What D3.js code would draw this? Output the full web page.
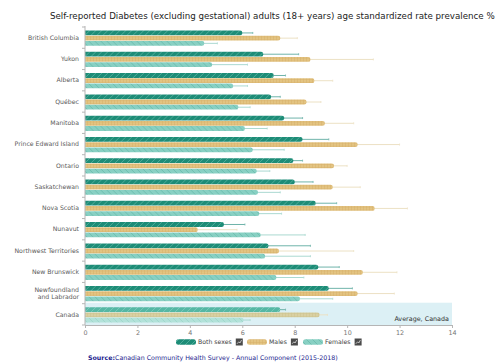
<!DOCTYPE html>
<html>
<head>
<meta charset="utf-8">
<script src="https://cdn.jsdelivr.net/npm/d3@7"></script>
<style>
  html, body { margin: 0; padding: 0; background: #fff; }
  svg { display: block; }
  text { font-family: "DejaVu Sans", Verdana, sans-serif; }
</style>
</head>
<body>
<svg id="chart" width="497" height="363"></svg>
<script>
// Prevalence (%) of self-reported diabetes, age standardized, by province/territory
const regions = ["British Columbia", "Yukon", "Alberta", "Québec", "Manitoba",
  "Prince Edward Island", "Ontario", "Saskatchewan", "Nova Scotia", "Nunavut",
  "Northwest Territories", "New Brunswick", "Newfoundland\nand Labrador", "Canada"];
const seriesNames = ["Both sexes", "Males", "Females"];
const bothSexes = [6.0, 6.8, 7.2, 7.1, 7.6, 8.3, 7.95, 8.0, 8.8, 5.3, 7.0, 8.9, 9.3, 7.45];
const males     = [7.45, 8.6, 8.75, 8.45, 9.15, 10.4, 9.5, 9.45, 11.05, 4.3, 7.4, 10.6, 10.4, 8.95];
const females   = [4.55, 4.85, 5.65, 5.85, 6.1, 6.4, 6.55, 6.6, 6.65, 6.7, 6.87, 7.3, 8.2, 6.05];
// Upper bounds of the 95% confidence intervals
const bothUpper    = [6.4, 8.15, 7.65, 7.45, 8.3, 9.3, 8.3, 8.7, 9.6, 6.1, 8.6, 9.7, 10.2, 7.65];
const malesUpper   = [8.1, 11.0, 9.45, 9.0, 10.25, 12.0, 10.0, 10.5, 12.3, 5.8, 10.25, 11.9, 11.8, 9.25];
const femalesUpper = [5.05, 6.2, 6.2, 6.3, 6.95, 7.6, 7.05, 7.45, 7.5, 8.4, 8.6, 8.35, 9.45, 6.3];
const xTicks = [0, 2, 4, 6, 8, 10, 12, 14];

const titleText = "Self-reported Diabetes (excluding gestational) adults (18+ years) age standardized rate prevalence %";
const averageLabel = "Average, Canada";

const svg = d3.select("#chart");
const plotLeft = 85, plotRight = 452, plotTop = 27, plotBottom = 325;

const x = d3.scaleLinear().domain([0, 14]).range([plotLeft, plotRight]);
const y = d3.scaleBand().domain(regions).range([plotTop, plotBottom]);
const groupH = y.bandwidth() * 0.735;
const y1 = d3.scaleBand().domain(seriesNames).range([0, groupH]);

// --- fill patterns ---------------------------------------------------------
const defs = svg.append("defs");
function stripes(id, bg, fg, dir) {
  const p = defs.append("pattern").attr("id", id).attr("patternUnits", "userSpaceOnUse")
    .attr("width", 6).attr("height", 6);
  p.append("rect").attr("width", 6).attr("height", 6).attr("fill", bg);
  const d = dir > 0 ? "M-1,7 L7,-1 M-4,4 L4,-4 M2,10 L10,2" : "M-1,-1 L7,7 M-4,2 L4,10 M2,-4 L10,4";
  p.append("path").attr("d", d).attr("stroke", fg).attr("stroke-width", 0.9);
}
function grid(id, bg, fg) {
  const p = defs.append("pattern").attr("id", id).attr("patternUnits", "userSpaceOnUse")
    .attr("width", 3).attr("height", 3);
  p.append("rect").attr("width", 3).attr("height", 3).attr("fill", bg);
  p.append("path").attr("d", "M0,0.5 H3 M0.5,0 V3").attr("stroke", fg).attr("stroke-width", 0.5);
}
stripes("pBoth", "#1d8c77", "#54b09d", 1);
grid("pMales", "#e3c482", "#d6b06a");
stripes("pFemales", "#88d0c3", "#6cbcae", -1);
stripes("pBothAvg", "#55b7a4", "#7ccabb", 1);
grid("pMalesAvg", "#d9d0a2", "#cdc28e");
stripes("pFemalesAvg", "#b2e2d9", "#9fd6cc", -1);

const fills = { "Both sexes": "url(#pBoth)", "Males": "url(#pMales)", "Females": "url(#pFemales)" };
const fillsAvg = { "Both sexes": "url(#pBothAvg)", "Males": "url(#pMalesAvg)", "Females": "url(#pFemalesAvg)" };
const errColor = { "Both sexes": "#6fb4aa", "Males": "#ece1c4", "Females": "#abd9d1" };

// --- title -----------------------------------------------------------------
svg.append("text").attr("x", 50).attr("y", 18.5)
  .attr("font-family", "'Liberation Sans', Arial, sans-serif")
  .attr("font-size", 8.7).attr("fill", "#222").text(titleText);

// --- Canada highlight band ----------------------------------------------------
const canada = regions[regions.length - 1];
svg.append("rect").attr("x", plotLeft).attr("y", y(canada) - 1)
  .attr("width", plotRight - plotLeft).attr("height", plotBottom - y(canada) + 1)
  .attr("fill", "#dcf0f5");
svg.append("text").attr("x", plotRight - 3).attr("y", y(canada) + 17.5)
  .attr("text-anchor", "end").attr("font-size", 6.4).attr("fill", "#333").text(averageLabel);

// --- bars ----------------------------------------------------------------------
const rows = regions.map((r, i) => ({
  region: r,
  values: [
    { key: "Both sexes", v: bothSexes[i], hi: bothUpper[i] },
    { key: "Males", v: males[i], hi: malesUpper[i] },
    { key: "Females", v: females[i], hi: femalesUpper[i] }
  ]
}));

const groups = svg.append("g").selectAll("g").data(rows).join("g")
  .attr("transform", d => `translate(0,${y(d.region) + (y.bandwidth() - groupH) / 2 + 0.5})`);

// confidence-interval whiskers, drawn first so bars cover their lower half
groups.selectAll("g.err").data(d => d.values).join("g").attr("class", "err")
  .each(function (d) {
    const g = d3.select(this);
    const cy = y1(d.key) + y1.bandwidth() / 2;
    g.append("line").attr("x1", x(d.v) - 4).attr("x2", x(d.hi)).attr("y1", cy).attr("y2", cy)
      .attr("stroke", errColor[d.key]).attr("stroke-width", 1);
    g.append("line").attr("x1", x(d.hi)).attr("x2", x(d.hi)).attr("y1", cy - 1).attr("y2", cy + 1)
      .attr("stroke", errColor[d.key]).attr("stroke-width", 0.8);
  });

groups.each(function (row) {
  const isAvg = row.region === canada;
  d3.select(this).selectAll("path.bar").data(row.values).join("path").attr("class", "bar")
    .attr("fill", d => (isAvg ? fillsAvg : fills)[d.key])
    .attr("d", d => {
      const x0 = x(0), x1 = x(d.v), yy = y1(d.key) + 0.2, h = y1.bandwidth() - 0.4, r = Math.min(2.2, h / 2);
      return `M${x0},${yy} H${x1 - r} Q${x1},${yy} ${x1},${yy + r} V${yy + h - r} Q${x1},${yy + h} ${x1 - r},${yy + h} H${x0} Z`;
    });
});

// --- y axis ---------------------------------------------------------------------
const axisColor = "#b5b5b5";
svg.append("line").attr("x1", plotLeft).attr("x2", plotLeft).attr("y1", plotTop - 1).attr("y2", plotBottom)
  .attr("stroke", axisColor).attr("stroke-width", 1);
const bounds = regions.map(r => y(r)).concat([plotBottom]);
svg.append("g").selectAll("line").data(bounds).join("line")
  .attr("x1", plotLeft - 3).attr("x2", plotLeft).attr("y1", d => d).attr("y2", d => d)
  .attr("stroke", axisColor);

const yLabels = svg.append("g").selectAll("text").data(regions).join("text")
  .attr("text-anchor", "end").attr("font-size", 6.2).attr("fill", "#5a5a5a")
  .attr("transform", d => `translate(${plotLeft - 6},${y(d) + y.bandwidth() / 2})`);
yLabels.each(function (d) {
  const lines = d.split("\n");
  const t = d3.select(this);
  lines.forEach((ln, i) => {
    t.append("tspan").attr("x", 0)
      .attr("y", (i - (lines.length - 1) / 2) * 7.2 + 2.2).text(ln);
  });
});

// --- x axis ---------------------------------------------------------------------
const xAxis = svg.append("g").attr("transform", `translate(0,${plotBottom})`)
  .call(d3.axisBottom(x).tickValues(xTicks).tickSize(3).tickFormat(d3.format("d")));
xAxis.select(".domain").attr("stroke", axisColor);
xAxis.selectAll(".tick line").attr("stroke", axisColor);
xAxis.selectAll(".tick text").attr("font-family", "'DejaVu Sans', Verdana, sans-serif")
  .attr("font-size", 6.4).attr("fill", "#777").attr("dy", "0.55em");

// --- legend -----------------------------------------------------------------------
const legendX = [176, 247, 303];
const legend = svg.append("g").selectAll("g").data(seriesNames).join("g")
  .attr("transform", (d, i) => `translate(${legendX[i]},342)`);
legend.append("rect").attr("x", 0).attr("y", -2.8).attr("width", 20).attr("height", 5.6)
  .attr("rx", 2.5).attr("fill", d => fills[d]);
legend.append("text").attr("x", 22).attr("y", 2.3).attr("font-size", 6.2).attr("fill", "#444")
  .text(d => d);
legend.each(function (d) {
  const g = d3.select(this);
  const tw = g.select("text").node().getComputedTextLength();
  const ix = 22 + tw + 4;
  g.append("rect").attr("x", ix).attr("y", -3.5).attr("width", 7).attr("height", 7)
    .attr("fill", "#4a4a4a");
  g.append("path").attr("d", `M${ix + 1.2},${1.8} L${ix + 3},${-0.2} L${ix + 4.2},${1} L${ix + 5.8},${-2}`)
    .attr("stroke", "#ddd").attr("stroke-width", 0.8).attr("fill", "none");
});

// --- source note ---------------------------------------------------------------------
const src = svg.append("text").attr("x", 88).attr("y", 359.5).attr("font-size", 6.3).attr("fill", "#1c1c8e");
src.append("tspan").attr("font-weight", "bold").text("Source:");
src.append("tspan").text("Canadian Community Health Survey - Annual Component (2015-2018)");
</script>
</body>
</html>
